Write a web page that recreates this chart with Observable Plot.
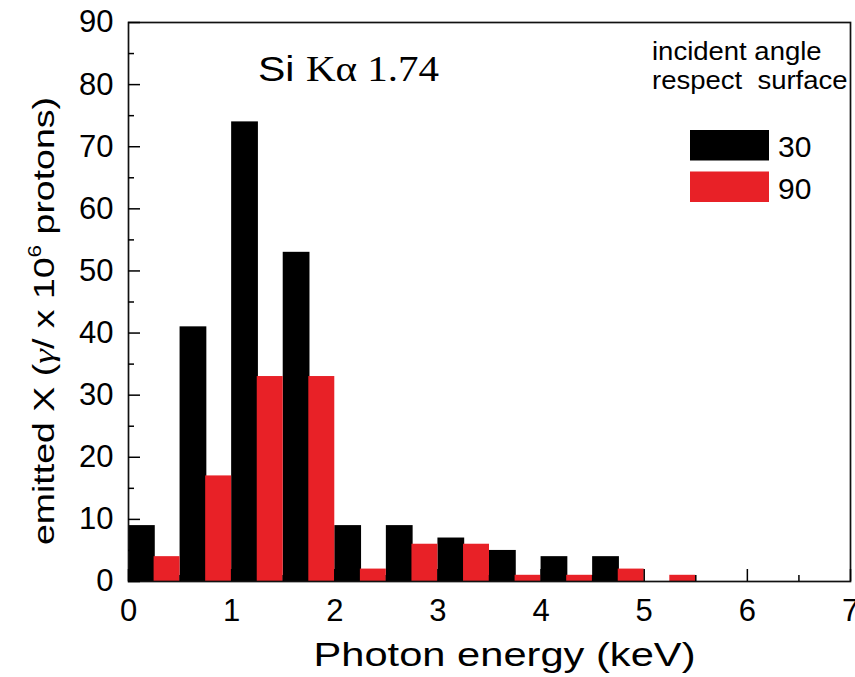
<!DOCTYPE html>
<html>
<head>
<meta charset="utf-8">
<script src="https://cdn.jsdelivr.net/npm/d3@7"></script>
<script src="https://cdn.jsdelivr.net/npm/@observablehq/plot@0.6"></script>
<style>
  html, body { margin: 0; padding: 0; background: #fff; }
  #chart { width: 855px; height: 677px; }
</style>
</head>
<body>
<div id="chart"></div>
<script>
// ---- data ----
const binStart = [0, 0.5, 1, 1.5, 2, 2.5, 3, 3.5, 4, 4.5, 5];
const angle30 = [9, 41, 74, 53, 9, 9, 7, 5, 4, 4, 0];
const angle90 = [4, 17, 33, 33, 2, 6, 6, 1, 1, 2, 1];
const binWidth = 0.5;
const seriesNames = ["30", "90"];
const seriesColors = ["#000000", "#e82127"];
const xTicks = [0, 1, 2, 3, 4, 5, 6, 7];
const xMinorTicks = [0.5, 1.5, 2.5, 3.5, 4.5, 5.5, 6.5];
const yTicks = [0, 10, 20, 30, 40, 50, 60, 70, 80, 90];
const yMinorTicks = [5, 15, 25, 35, 45, 55, 65, 75, 85];
const xLabel = "Photon energy (keV)";
const yLabel = "emitted X (γ/ x 10⁶ protons)";
const legendTitle = ["incident angle", "respect\u00a0 surface"];

const rows30 = binStart.map((s, i) => ({start: s, value: angle30[i]}));
const rows90 = binStart.map((s, i) => ({start: s, value: angle90[i]}));

const sans = "'Liberation Sans', Arial, Helvetica, sans-serif";
const serif = "'Liberation Serif', 'Times New Roman', serif";

const chart = Plot.plot({
  width: 855,
  height: 677,
  marginLeft: 128,
  marginRight: 5,
  marginTop: 22,
  marginBottom: 96,
  x: {domain: [0, 7], label: null},
  y: {domain: [0, 90], label: null},
  style: {fontFamily: sans, fontSize: "31px", color: "#000", background: "#fff"},
  marks: [
    Plot.rectY(rows30, {x1: d => d.start, x2: d => d.start + binWidth, y: "value", fill: seriesColors[0], insetRight: 24.8}),
    Plot.rectY(rows90, {x1: d => d.start, x2: d => d.start + binWidth, y: "value", fill: seriesColors[1], insetLeft: 25.6}),
    Plot.frame({stroke: "#111", strokeWidth: 1.7}),
    Plot.axisX(xTicks, {tickSize: -12, tickPadding: 29, strokeWidth: 1.5, tickFormat: d3.format("d"), label: null}),
    Plot.axisX(xMinorTicks, {tickSize: -6, tickPadding: 0, strokeWidth: 1.5, tickFormat: () => "", label: null}),
    Plot.axisY(yTicks, {tickSize: -12, tickPadding: 27, strokeWidth: 1.5, tickFormat: d3.format("d"), label: null}),
    Plot.axisY(yMinorTicks, {tickSize: -6, tickPadding: 0, strokeWidth: 1.5, tickFormat: () => "", label: null}),
    Plot.text([xLabel], {text: d => d, frameAnchor: "bottom", textAnchor: "middle", dx: 15, dy: 84, lineAnchor: "bottom", fontSize: 33}),
    Plot.text([yLabel], {text: d => d, frameAnchor: "left", textAnchor: "middle", rotate: -90, dx: -75, dy: 19, lineAnchor: "bottom", fontSize: 30})
  ]
});
document.getElementById("chart").appendChild(chart);

// ---- post-processing: text stretch, annotations, legend ----
const svg = d3.select(chart);
const byText = s => svg.selectAll("text").filter(function () { return this.textContent === s; });

byText(xLabel)
  .attr("textLength", 382)
  .attr("lengthAdjust", "spacingAndGlyphs");

const yl = byText(yLabel);
if (!yl.empty()) {
  yl.attr("transform", (yl.attr("transform") || "") + " scale(1.25,1)");
  yl.text(null);
  yl.append("tspan").text("emitted X (");
  yl.append("tspan").attr("font-family", serif).attr("font-style", "italic").text("γ");
  yl.append("tspan").text("/ x 10");
  yl.append("tspan").attr("font-size", 18).attr("dy", -13).text("6");
  yl.append("tspan").attr("dy", 13).text(" protons)");
}

// annotation "Si Kα 1.74"
const ann = svg.append("text")
  .attr("transform", "translate(258,81) scale(1.14,1)")
  .attr("text-anchor", "start")
  .attr("font-size", 36)
  .attr("fill", "#000");
ann.append("tspan").attr("font-family", sans).text("Si ");
ann.append("tspan").attr("font-family", serif).text("Kα 1.74");

// legend
const lg = svg.append("g").attr("font-family", sans).attr("fill", "#000").attr("text-anchor", "start");
legendTitle.forEach((t, i) => {
  lg.append("text")
    .attr("transform", `translate(652,${60 + i * 29}) scale(1.1,1)`)
    .attr("font-size", 25)
    .text(t);
});
seriesNames.forEach((name, i) => {
  const top = 130 + i * 41.5;
  lg.append("rect").attr("x", 690).attr("y", top).attr("width", 79).attr("height", 30.5).attr("fill", seriesColors[i]);
  lg.append("text").attr("x", 778).attr("y", top + 27).attr("font-size", 30).text(name);
});
</script>
</body>
</html>
